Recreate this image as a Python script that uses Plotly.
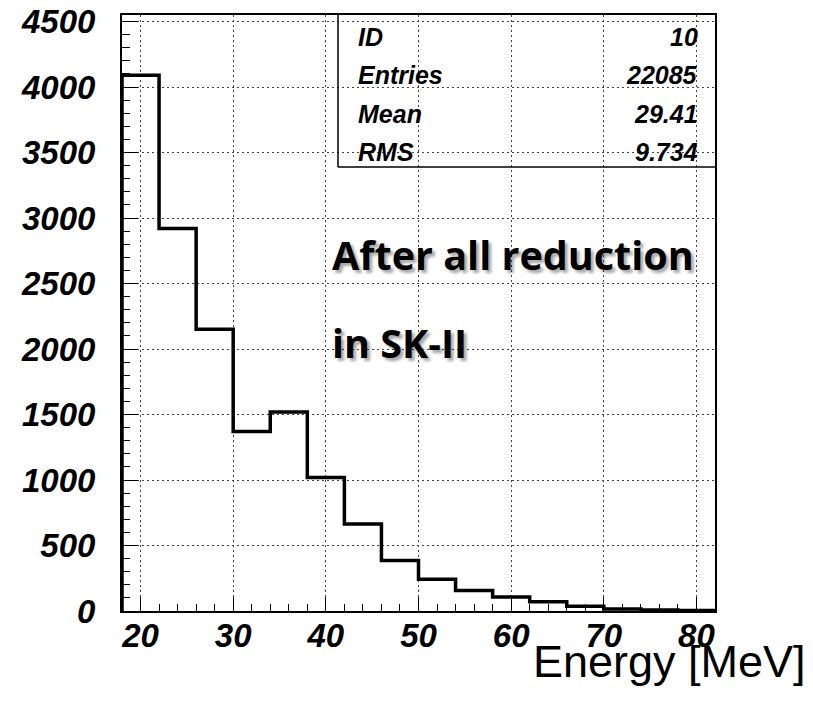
import plotly.graph_objects as go

# Histogram ID 10: reconstructed energy spectrum, 4 MeV bins
bin_edges = [18, 22, 26, 30, 34, 38, 42, 46, 50, 54, 58, 62, 66, 70, 74, 78, 82]
counts = [4090, 2920, 2150, 1370, 1520, 1020, 665, 385, 242, 156, 107, 70, 37, 16, 7, 3]

x_ticks = [20, 30, 40, 50, 60, 70, 80]
y_ticks = [0, 500, 1000, 1500, 2000, 2500, 3000, 3500, 4000, 4500]

stat_names = ["ID", "Entries", "Mean", "RMS"]
stat_values = ["10", "22085", "29.41", "9.734"]

x_title = "Energy [MeV]"
note_lines = ["After all reduction", "in SK-II"]

W, H = 813, 701
M_L, M_R, M_T, M_B = 122, 98, 15, 90
PW, PH = W - M_L - M_R, H - M_T - M_B


def px(x):
    return (x - M_L) / PW


def py(y):
    return (H - M_B - y) / PH


# step outline: rise from zero at the first edge, then one level per bin
step_x = [bin_edges[0]] + bin_edges
step_y = [0] + counts + [counts[-1]]

fig = go.Figure()
fig.add_trace(go.Scatter(
    x=step_x, y=step_y, mode="lines",
    line=dict(color="black", width=3.5, shape="hv"),
    hoverinfo="skip", showlegend=False,
))

tick_font = dict(family="Liberation Sans", size=33, color="black", style="italic", weight="bold")
grid_style = dict(showgrid=True, gridcolor="#444444", gridwidth=1, griddash="2px,3px")

fig.update_xaxes(
    range=[18, 82], tickvals=x_ticks, ticktext=[str(v) for v in x_ticks],
    ticks="inside", ticklen=14, tickwidth=1.2, tickcolor="black",
    minor=dict(ticks="inside", ticklen=7, dtick=2, tick0=20, tickcolor="black", tickwidth=1.2, showgrid=False),
    showline=True, linecolor="black", linewidth=2, mirror=True,
    tickfont=tick_font, ticklabelstandoff=-6, zeroline=False, automargin=False, **grid_style,
)
fig.update_yaxes(
    range=[0, 4550], tickvals=y_ticks, ticktext=[str(v) for v in y_ticks],
    ticks="inside", ticklen=16, tickwidth=1.2, tickcolor="black",
    minor=dict(ticks="inside", ticklen=8, dtick=100, tick0=0, tickcolor="black", tickwidth=1.2, showgrid=False),
    showline=True, linecolor="black", linewidth=2, mirror=True,
    tickfont=tick_font, ticklabelstandoff=18, zeroline=False, automargin=False, **grid_style,
)

# statistics box (left and bottom edges; the rest sits on the frame)
box_left, box_bottom = px(338), py(167)
fig.add_shape(type="line", xref="paper", yref="paper",
              x0=box_left, x1=box_left, y0=box_bottom, y1=1, line=dict(color="black", width=1.5))
fig.add_shape(type="line", xref="paper", yref="paper",
              x0=box_left, x1=1, y0=box_bottom, y1=box_bottom, line=dict(color="black", width=1.5))

stat_font = dict(family="Liberation Sans", size=25, color="black", style="italic", weight="bold")
row_y = [37, 75, 114, 152]
annotations = []
for name, val, ry in zip(stat_names, stat_values, row_y):
    annotations.append(dict(text=name, x=px(356), y=py(ry), xref="paper", yref="paper",
                            xanchor="left", yanchor="middle", showarrow=False, font=stat_font))
    annotations.append(dict(text=val, x=px(700), y=py(ry), xref="paper", yref="paper",
                            xanchor="right", yanchor="middle", showarrow=False, font=stat_font))

note_font = dict(family="Open Sans", size=39.5, color="black", weight="bold",
                 shadow="3px 3px 3px rgba(0,0,0,0.35)")
for line, ny in zip(note_lines, [255, 343]):
    annotations.append(dict(text=line, x=px(330), y=py(ny), xref="paper", yref="paper",
                            xanchor="left", yanchor="middle", showarrow=False, font=note_font))

annotations.append(dict(text=x_title, x=px(808), y=py(661), xref="paper", yref="paper",
                        xanchor="right", yanchor="middle", showarrow=False,
                        font=dict(family="Liberation Sans", size=45, color="black")))

fig.update_layout(
    width=W, height=H, autosize=False,
    margin=dict(l=M_L, r=M_R, t=M_T, b=M_B, pad=0, autoexpand=False),
    plot_bgcolor="white", paper_bgcolor="white",
    annotations=annotations,
)

fig.write_html("out.html")
